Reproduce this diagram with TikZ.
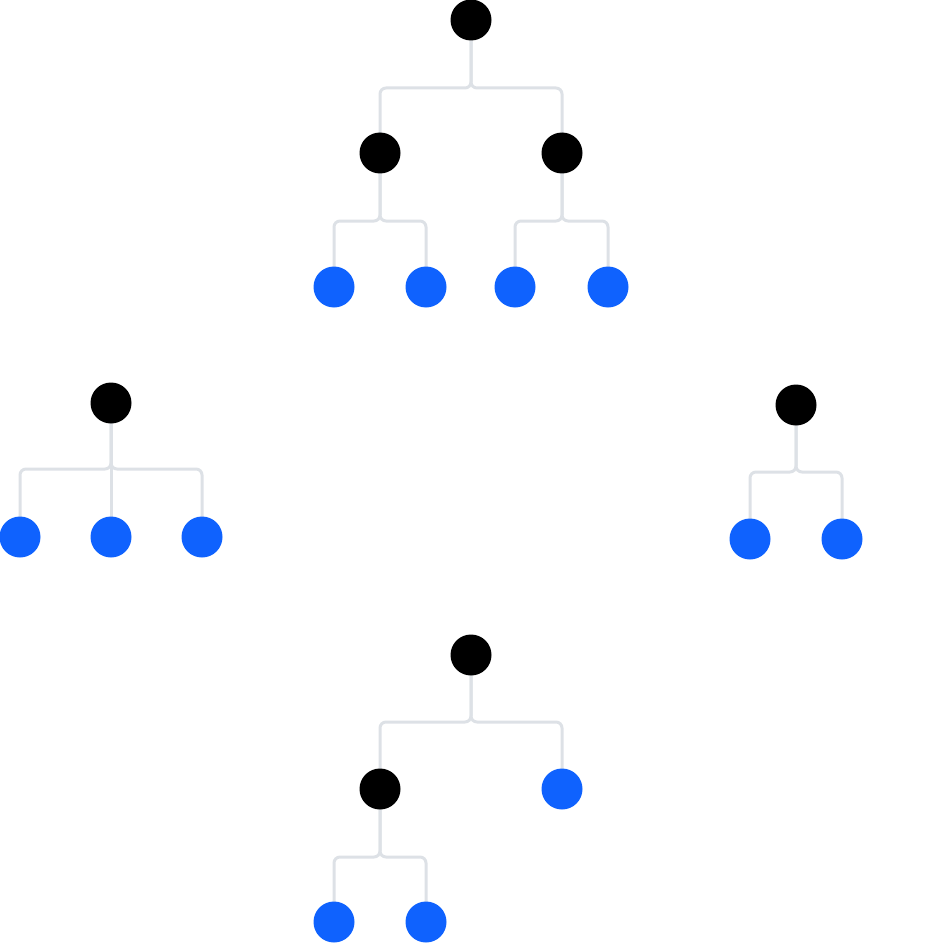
\documentclass[tikz,border=0pt]{standalone}
\usetikzlibrary{backgrounds}
\definecolor{nodeblue}{HTML}{0F62FE}
\definecolor{linegray}{HTML}{DDE1E6}
\tikzset{
  inner/.style={circle,fill=black,minimum size=41pt,inner sep=0pt},
  leaf/.style={circle,fill=nodeblue,minimum size=41pt,inner sep=0pt},
  conn/.style={draw=linegray,line width=3pt,rounded corners=6pt},
}
\newcommand{\link}[3]{\draw[conn] (#1.center) -- (#1.center |- #3) -- (#2.center |- #3) -- (#2.center);}
\begin{document}
\begin{tikzpicture}[x=1pt,y=-1pt]
\useasboundingbox (0,0) rectangle (944,944);
% top tree
\node[inner] (t) at (471,20) {};
\node[inner] (tl) at (380,153) {};
\node[inner] (tr) at (562,153) {};
\node[leaf] (tll) at (334,287) {};
\node[leaf] (tlr) at (426,287) {};
\node[leaf] (trl) at (515,287) {};
\node[leaf] (trr) at (608,287) {};
\coordinate (bt) at (0,88);
\coordinate (btl) at (0,221);
% left tree
\node[inner] (l) at (111,403) {};
\node[leaf] (l1) at (20,537) {};
\node[leaf] (l2) at (111,537) {};
\node[leaf] (l3) at (202,537) {};
\coordinate (bl) at (0,469);
% right tree
\node[inner] (r) at (796,405) {};
\node[leaf] (r1) at (750,539) {};
\node[leaf] (r2) at (842,539) {};
\coordinate (br) at (0,472);
% bottom tree
\node[inner] (b) at (471,655) {};
\node[inner] (bl1) at (380,789) {};
\node[leaf] (br1) at (562,789) {};
\node[leaf] (bll) at (334,922) {};
\node[leaf] (blr) at (426,922) {};
\coordinate (bb) at (0,722);
\coordinate (bbl) at (0,857);
\begin{scope}[on background layer]
\link{t}{tl}{bt}
\link{t}{tr}{bt}
\link{tl}{tll}{btl}
\link{tl}{tlr}{btl}
\link{tr}{trl}{btl}
\link{tr}{trr}{btl}
\link{l}{l1}{bl}
\link{l}{l2}{bl}
\link{l}{l3}{bl}
\link{r}{r1}{br}
\link{r}{r2}{br}
\link{b}{bl1}{bb}
\link{b}{br1}{bb}
\link{bl1}{bll}{bbl}
\link{bl1}{blr}{bbl}
\end{scope}
\end{tikzpicture}
\end{document}
